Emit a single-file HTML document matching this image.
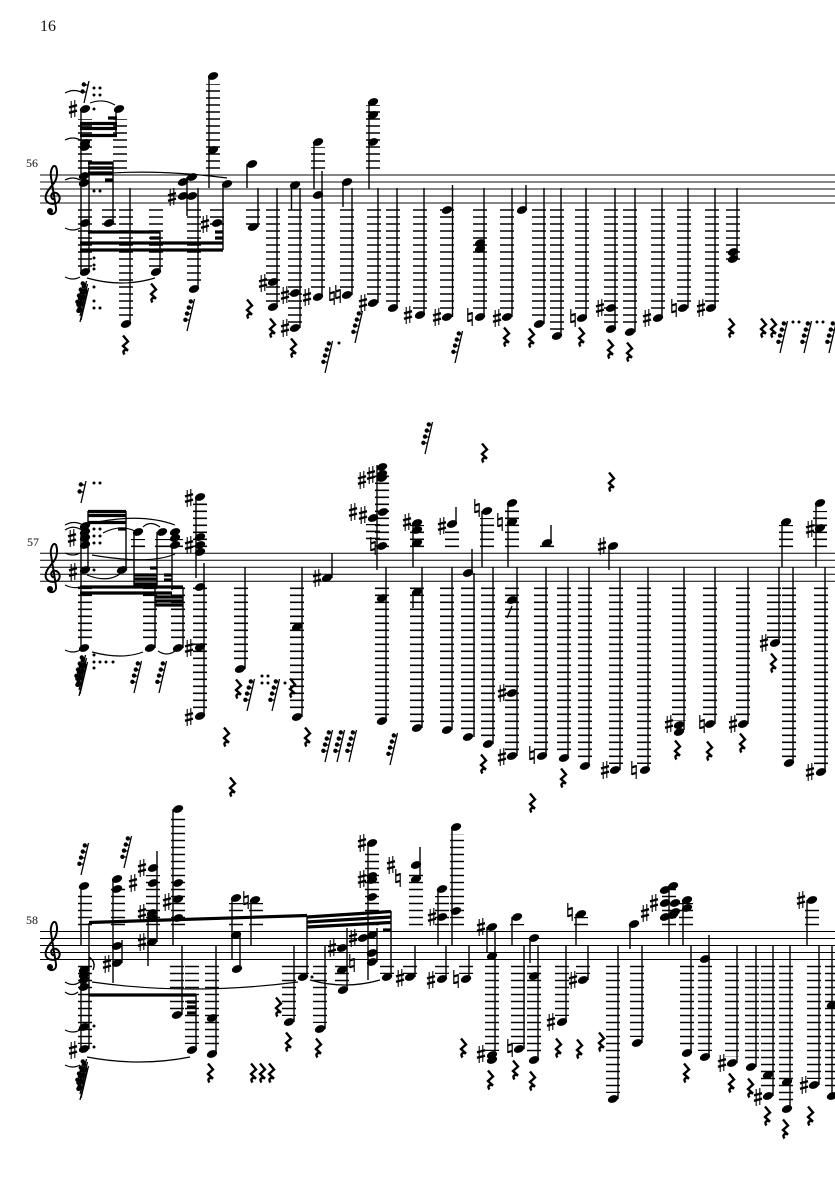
<!DOCTYPE html>
<html><head><meta charset="utf-8"><title>Score page 16</title>
<style>html,body{margin:0;padding:0;background:#fff}svg{display:block}text{font-family:"Liberation Serif",serif;fill:#111}</style></head>
<body>
<svg xmlns="http://www.w3.org/2000/svg" width="835" height="1181" viewBox="0 0 835 1181">
<defs>
<ellipse id="n" rx="5.4" ry="3.6" transform="rotate(-22)" fill="#000"/>
<circle id="d" r="1.5" fill="#000"/>
<g id="s" fill="none" stroke="#000"><path d="M-1.8-8V9M1.8-9V8" stroke-width="1.1"/><path d="M-4-1.6 4-3.8M-4 3.8 4 1.6" stroke-width="2.4"/></g>
<g id="t" fill="none" stroke="#000"><path d="M-2.2-9V5M2.2-5V9" stroke-width="1.2"/><path d="M-2.2-2.6 2.2-3.9M-2.2 4.2 2.2 2.9" stroke-width="2.2"/></g>
<path id="r" d="M-2-9.500 3-3.500-2 1 3 5.500C-.5 4-3 6-.5 9.500" fill="none" stroke="#000" stroke-width="2.4"/>
<g id="x" stroke="#000" fill="none"><path d="M4.500-16-3 16" stroke-width="1.3"/><path d="M.8-13.2 3.800-13M-1.3-7 2.500-7M-3-1 1-1M-4.800 5.200-.5 5" stroke-width="1.2"/><circle cx=".8" cy="-13.6" r="2.2" fill="#000" stroke="none"/><circle cx="-1.2" cy="-7.4" r="2.2" fill="#000" stroke="none"/><circle cx="-3" cy="-1.4" r="2.2" fill="#000" stroke="none"/><circle cx="-4.6" cy="4.8" r="2.2" fill="#000" stroke="none"/></g>
<g id="X"><use href="#x" x="0" y="-1"/><use href="#x" x="1" y="3"/><use href="#x" x="0" y="5"/><use href="#x" x="-1" y="-4"/></g>
<g id="q" stroke="#000" fill="none"><path d="M3-11-2 11" stroke-width="1.3"/><path d="M-2-7 2-7M-3.4 0 .5 0" stroke-width="1.2"/><circle cx="-2.2" cy="-7.5" r="2.2" fill="#000" stroke="none"/><circle cx="-3.4" cy="-.5" r="2.2" fill="#000" stroke="none"/></g>
<g id="c"><path d="M1.500 3.500C-2 3.500-3-1.500 0-3 5-4.500 8 1 6 5 4 9-5 9-7 4-9-2-3-8 1-13 4-17 5-24 3-29 0-33-3-25-2-19L3 12C4 19-4 20-5 15" fill="none" stroke="#000" stroke-width="2"/><circle cx="-3" cy="15" r="3" fill="#000"/></g>
</defs>

<text x="40" y="31" font-size="16">16</text>
<text x="26" y="167" font-size="12">56</text>
<text x="27" y="546" font-size="12">57</text>
<text x="26" y="924" font-size="12">58</text>

<!-- staves -->
<path d="M40 175H835M40 182H835M40 189H835M40 196H835M40 203H835" stroke="#000" stroke-width="1" opacity=".95"/>
<path d="M40 553.3H835M40 560.3H835M40 567.3H835M40 574.3H835M40 581.3H835" stroke="#000" stroke-width="1"/>
<path d="M40 931.5H835M40 938.5H835M40 945.5H835M40 952.5H835M40 959.5H835" stroke="#000" stroke-width="1"/>
<use href="#c" x="53" y="196"/><use href="#c" x="53" y="574"/><use href="#c" x="53" y="952"/>

<!-- ledger lines -->
<path fill="none" stroke="#000" stroke-width="14" stroke-dasharray="1.6 5.4" d="
M85 209.2V267M109 209.2V225M126 209.2V318M156 209.2V267M194 209.2V283M217 209.2V225M253 209.2V225M273 209.2V302M295 209.2V323M318 209.2V291M347 209.2V290M374 209.2V297M393 209.2V302M420 209.2V309M447 209.2V311M480 209.2V311M507 209.2V311M539 209.2V318M557 209.2V330M582 209.2V311M611 209.2V323M630 209.2V325M658 209.2V311M684 209.2V302M712 209.2V302M733 209.2V260
M85 168.8V119M120 168.8V119M213 168.8V84M318 168.8V147M373 168.8V105
M85 587.5V643M150 587.5V643M178 587.5V643M200 587.5V711M241 587.5V664M297 587.5V712M382 587.5V716M417 587.5V723M447 587.5V724M468 587.5V731M488 587.5V738M512 587.5V751M541 587.5V751M564 587.5V753M585 587.5V760M616 587.5V764M644 587.5V764M679 587.5V721M710 587.5V718M743 587.5V718M774 587.5V638M789 587.5V758M821 587.5V767
M138 547.1V539M162 547.1V539M176 547.1V539M200 547.1V503M382 547.1V473M417 547.1V525M452 547.1V531M487 547.1V518M512 547.1V510M547 547.1V545M786 547.1V525M820 547.1V511M373 539.2V524
M85 965.7V1044M177 965.7V1010M192 965.7V1044M212 965.7V1048M289 965.7V1016M302 965.7V974M320 965.7V1023M342 965.7V984M387 965.7V974M410 965.7V974M442 965.7V974M466 965.7V974M492 965.7V1051M518 965.7V1044M534 965.7V1054M562 965.7V1016M583 965.7V974M613 965.7V1093M637 965.7V1037M687 965.7V1047M705 965.7V1051M732 965.7V1057M752 965.7V1061M768 965.7V1090M786 965.7V1104M814 965.7V1079M832 965.7V1091
M85 925.3V893M118 925.3V886M153 925.3V875M178 925.3V816M236 925.3V903M256 925.3V903M372 925.3V850M416 925.3V872M442 925.3V896M457 925.3V834M517 925.3V924M581 925.3V917M669 925.3V889M686 925.3V903M812 925.3V907"/>

<!-- stems -->
<path fill="none" stroke="#000" stroke-width="1.4" d="
M81 109V272M89 162V272M116 109V137M113 162V223M130 188V324M160 232V272M187 177V216M198 188V289M223 184V250M209 78V188M247 164V188M258 188V227M277 188V307M291.500 185V210M300 188V328M314 142V189M322 171V297M343 182V207M352 188V295M369 102V189M378 188V303M397 188V308M424 188V315M452.500 185V317M484 188V317M512 188V317M526 185V210M544 188V324M561 188V336M586 188V318M615 188V329M635 188V332M662 188V318M688 188V308M715 188V308M737 188V259
M81 532V648M88 511V570M126 511V570M134 532V587M157 532V587M172 545V590M155 587V648M183 587V648M196 497V578M204 563V716M245 567V669M302 567V717M332 553V578M377 465V570M386 567V721M413 523V567M422 567V728M413 592V608M456 507V524M482 511V567M508 503V567M551 525V543M452 567V730M472 549V573M474 573V737M493 567V744M517 567V756M507 618 512 606M546 567V756M568 567V759M589 567V766M609 546V570M620 567V770M648 567V770M684 567V730M715 567V724M748 567V724M779 567V643M782 522V567M793 567V763M816 503V567M825 567V772
M81 886V945M113 879V983M122 940V963M157 851V942M148 913V966M173 809V945M182 945V1015M196 995V1050M216 945V1054M232 898V959M240 935V969M251 900V945M294 945V1022M89 923V1049M81 966V1049M307 917V977M325 945V1029M347 928V990M368 843V980M377 928V962M391 911V977M415 945V977M420 847V875M438 889V945M452 827V945M446 945V979M469 945V979M487 927V952M495 931V1058M512 917V945M524 945V1049M530 938V963M538 945V1060M566 945V1022M588 945V980M576 914V945M618 945V1099M630 924V949M642 945V1043M669 890V945M683 900V945M691 945V1053M709 935V1057M737 945V1063M756 945V1067M773 945V1096M790 945V1109M807 900V945M819 945V1085M832 945V1096"/>
<path d="M89 957C92 959 96 963 93 970" fill="none" stroke="#000" stroke-width="1.4"/>

<!-- beams -->
<path fill="none" stroke="#000" stroke-width="3.2" d="
M80 123.500H117M80 128.500H117M80 135.500H117M108 118H117M88 163H113M88 168H113M88 173H113M105 180H113M88 232H160M150 238H160M80 243H223M80 250H223M215 232H223M215 238H223
M88 511.500H126M88 515.500H126M88 522.500H126M118 529H126M134 575H157M134 579H157M134 584H157M150 568H157M164 575H172M164 580H172M80 587H183M80 593H172M155 597H183M155 601H183M155 605H183
M89 995H196M187 1002H196M187 1007H196M187 1013H196M307 917 391 911.500M307 922 391 917M307 927 391 922.500M383 930H391"/>
<path d="M89 922.500 307 915.500" fill="none" stroke="#000" stroke-width="3.2"/>

<!-- ties -->
<path fill="none" stroke="#000" stroke-width="1.2" d="
M65 93Q74 88 83 93M90 103Q103 98 115 105M65 140Q73 136 80 140M65 180Q73 176 80 180M88 175Q150 168 227 178M65 228Q73 232 80 228M65 277Q73 281 80 277M87 278Q122 288 155 278
M65 525Q74 520 83 525M65 530Q74 524 83 531M65 553Q73 557 80 553M65 585Q73 589 80 587M65 650Q73 654 80 650M92 652Q122 660 143 652M158 651Q167 657 175 651M87 575Q107 583 120 574M88 524Q140 512 175 525M92 555Q150 565 175 554M103 533Q120 524 135 531M143 527Q150 520 160 527
M65 982Q73 987 80 982M65 992Q72 997 78 992M65 1030Q73 1034 80 1030M65 1065Q73 1069 80 1065M92 982Q190 996 298 982M87 1057Q140 1067 190 1057M310 980Q345 990 380 980"/>

<!-- dots -->
<use href="#d" x="94" y="88"/><use href="#d" x="100" y="88"/><use href="#d" x="94" y="95"/><use href="#d" x="100" y="95"/><use href="#d" x="94" y="109"/><use href="#d" x="94" y="191"/><use href="#d" x="100" y="191"/><use href="#d" x="94" y="258"/><use href="#d" x="94" y="265"/><use href="#d" x="94" y="269"/><use href="#d" x="94" y="287"/><use href="#d" x="94" y="301"/><use href="#d" x="94" y="308"/><use href="#d" x="100" y="308"/><use href="#d" x="339" y="343"/><use href="#d" x="793" y="322"/><use href="#d" x="799" y="322"/><use href="#d" x="817" y="322"/><use href="#d" x="823" y="322"/>
<use href="#d" x="94" y="483"/><use href="#d" x="100" y="483"/><use href="#d" x="94" y="529"/><use href="#d" x="100" y="529"/><use href="#d" x="94" y="536"/><use href="#d" x="100" y="536"/><use href="#d" x="94" y="543"/><use href="#d" x="100" y="543"/><use href="#d" x="94" y="570"/><use href="#d" x="94" y="655"/><use href="#d" x="94" y="662"/><use href="#d" x="100" y="662"/><use href="#d" x="106" y="662"/><use href="#d" x="113" y="662"/><use href="#d" x="94" y="668"/><use href="#d" x="262" y="676"/><use href="#d" x="268" y="676"/><use href="#d" x="262" y="683"/><use href="#d" x="268" y="683"/><use href="#d" x="285" y="683"/>
<use href="#d" x="94" y="1026"/><use href="#d" x="94" y="1047"/><use href="#d" x="312" y="977"/>

<!-- system 1 notes -->
<use href="#n" x="85" y="109"/><use href="#n" x="119" y="109"/><use href="#n" x="85" y="143"/><use href="#n" x="85" y="147"/><use href="#n" x="84" y="176"/><use href="#n" x="84" y="183"/><use href="#n" x="85" y="223"/><use href="#n" x="109" y="223"/><use href="#n" x="85" y="272"/><use href="#n" x="156" y="272"/><use href="#n" x="126" y="324"/><use href="#n" x="194" y="289"/><use href="#n" x="217" y="223"/><use href="#n" x="227" y="184"/><use href="#n" x="183" y="182"/><use href="#n" x="192" y="177"/><use href="#n" x="183" y="196"/><use href="#n" x="192" y="196"/><use href="#n" x="213" y="76"/><use href="#n" x="213" y="150"/><use href="#n" x="252" y="164"/><use href="#n" x="253" y="227"/><use href="#n" x="273" y="282"/><use href="#n" x="273" y="307"/><use href="#n" x="295" y="185"/><use href="#n" x="295" y="293"/><use href="#n" x="295" y="328"/><use href="#n" x="318" y="142"/><use href="#n" x="318" y="195"/><use href="#n" x="318" y="297"/><use href="#n" x="347" y="182"/><use href="#n" x="347" y="295"/><use href="#n" x="373" y="102"/><use href="#n" x="373" y="115"/><use href="#n" x="373" y="142"/><use href="#n" x="373" y="303"/><use href="#n" x="393" y="308"/><use href="#n" x="420" y="315"/><use href="#n" x="447" y="210"/><use href="#n" x="447" y="317"/><use href="#n" x="480" y="243"/><use href="#n" x="480" y="249"/><use href="#n" x="480" y="317"/><use href="#n" x="507" y="317"/><use href="#n" x="522" y="210"/><use href="#n" x="539" y="324"/><use href="#n" x="557" y="336"/><use href="#n" x="582" y="318"/><use href="#n" x="611" y="308"/><use href="#n" x="611" y="329"/><use href="#n" x="630" y="332"/><use href="#n" x="658" y="318"/><use href="#n" x="683" y="308"/><use href="#n" x="711" y="308"/><use href="#n" x="733" y="252"/><use href="#n" x="733" y="259"/>
<use href="#s" x="73" y="109"/><use href="#s" x="172" y="197"/><use href="#s" x="205" y="224"/><use href="#s" x="263" y="283"/><use href="#s" x="285" y="295"/><use href="#s" x="285" y="328"/><use href="#s" x="307" y="297"/><use href="#s" x="363" y="303"/><use href="#s" x="408" y="315"/><use href="#s" x="437" y="317"/><use href="#s" x="497" y="318"/><use href="#s" x="600" y="308"/><use href="#s" x="647" y="318"/><use href="#s" x="701" y="308"/>
<use href="#t" x="332" y="296"/><use href="#t" x="338" y="294"/><use href="#t" x="470" y="317"/><use href="#t" x="573" y="318"/><use href="#t" x="674" y="308"/>
<use href="#r" x="125" y="345"/><use href="#r" x="153" y="293"/><use href="#r" x="249" y="309"/><use href="#r" x="272" y="328"/><use href="#r" x="293" y="348"/><use href="#r" x="506" y="337"/><use href="#r" x="531" y="338"/><use href="#r" x="581" y="337"/><use href="#r" x="610" y="349"/><use href="#r" x="629" y="352"/><use href="#r" x="731" y="328"/><use href="#r" x="763" y="328"/><use href="#r" x="773" y="328"/>
<use href="#x" x="190" y="315"/><use href="#x" x="328" y="357"/><use href="#x" x="358" y="327"/><use href="#x" x="458" y="347"/><use href="#x" x="783" y="337"/><use href="#x" x="807" y="337"/><use href="#x" x="832" y="337"/><use href="#X" x="83" y="301"/><use href="#q" x="86" y="92"/>

<!-- system 2 notes -->
<use href="#n" x="85" y="526"/><use href="#n" x="85" y="532"/><use href="#n" x="85" y="538"/><use href="#n" x="85" y="545"/><use href="#n" x="85" y="570"/><use href="#n" x="122" y="570"/><use href="#n" x="84" y="648"/><use href="#n" x="150" y="648"/><use href="#n" x="178" y="648"/><use href="#n" x="138" y="532"/><use href="#n" x="162" y="532"/><use href="#n" x="175" y="532"/><use href="#n" x="175" y="538"/><use href="#n" x="175" y="545"/><use href="#n" x="200" y="497"/><use href="#n" x="200" y="537"/><use href="#n" x="200" y="545"/><use href="#n" x="200" y="552"/><use href="#n" x="200" y="587"/><use href="#n" x="200" y="647"/><use href="#n" x="200" y="716"/><use href="#n" x="240" y="669"/><use href="#n" x="297" y="627"/><use href="#n" x="297" y="717"/><use href="#n" x="327" y="578"/><use href="#n" x="382" y="467"/><use href="#n" x="382" y="474"/><use href="#n" x="382" y="478"/><use href="#n" x="383" y="512"/><use href="#n" x="373" y="518"/><use href="#n" x="382" y="546"/><use href="#n" x="382" y="598"/><use href="#n" x="382" y="721"/><use href="#n" x="417" y="523"/><use href="#n" x="417" y="530"/><use href="#n" x="417" y="543"/><use href="#n" x="417" y="592"/><use href="#n" x="417" y="728"/><use href="#n" x="452" y="524"/><use href="#n" x="487" y="511"/><use href="#n" x="512" y="503"/><use href="#n" x="512" y="522"/><use href="#n" x="547" y="543"/><use href="#n" x="447" y="730"/><use href="#n" x="468" y="573"/><use href="#n" x="468" y="737"/><use href="#n" x="488" y="744"/><use href="#n" x="512" y="600"/><use href="#n" x="512" y="693"/><use href="#n" x="512" y="756"/><use href="#n" x="542" y="756"/><use href="#n" x="564" y="758"/><use href="#n" x="585" y="766"/><use href="#n" x="613" y="546"/><use href="#n" x="615" y="770"/><use href="#n" x="645" y="770"/><use href="#n" x="679" y="725"/><use href="#n" x="679" y="732"/><use href="#n" x="710" y="724"/><use href="#n" x="743" y="724"/><use href="#n" x="775" y="643"/><use href="#n" x="786" y="522"/><use href="#n" x="789" y="763"/><use href="#n" x="820" y="503"/><use href="#n" x="820" y="528"/><use href="#n" x="821" y="772"/>
<use href="#s" x="72" y="538"/><use href="#s" x="73" y="572"/><use href="#s" x="189" y="498"/><use href="#s" x="189" y="545"/><use href="#s" x="189" y="648"/><use href="#s" x="189" y="717"/><use href="#s" x="317" y="578"/><use href="#s" x="362" y="480"/><use href="#s" x="371" y="475"/><use href="#s" x="353" y="512"/><use href="#s" x="363" y="515"/><use href="#s" x="407" y="522"/><use href="#s" x="442" y="526"/><use href="#s" x="502" y="693"/><use href="#s" x="502" y="757"/><use href="#s" x="602" y="546"/><use href="#s" x="605" y="770"/><use href="#s" x="669" y="724"/><use href="#s" x="733" y="724"/><use href="#s" x="764" y="643"/><use href="#s" x="810" y="529"/><use href="#s" x="810" y="772"/>
<use href="#t" x="373" y="546"/><use href="#t" x="477" y="508"/><use href="#t" x="500" y="522"/><use href="#t" x="532" y="755"/><use href="#t" x="634" y="770"/><use href="#t" x="702" y="724"/>
<use href="#r" x="238" y="689"/><use href="#r" x="226" y="737"/><use href="#r" x="232" y="787"/><use href="#r" x="292" y="688"/><use href="#r" x="307" y="737"/><use href="#r" x="484" y="453"/><use href="#r" x="483" y="764"/><use href="#r" x="563" y="778"/><use href="#r" x="532" y="803"/><use href="#r" x="611" y="482"/><use href="#r" x="773" y="663"/><use href="#r" x="677" y="750"/><use href="#r" x="709" y="751"/><use href="#r" x="742" y="743"/>
<use href="#X" x="82" y="675"/><use href="#x" x="137" y="677"/><use href="#x" x="162" y="677"/><use href="#x" x="250" y="695"/><use href="#x" x="275" y="695"/><use href="#x" x="428" y="438"/><use href="#x" x="328" y="746"/><use href="#x" x="340" y="746"/><use href="#x" x="352" y="746"/><use href="#x" x="393" y="749"/><use href="#q" x="83" y="492"/>

<!-- system 3 notes -->
<use href="#n" x="84" y="886"/><use href="#n" x="117" y="879"/><use href="#n" x="117" y="889"/><use href="#n" x="117" y="946"/><use href="#n" x="117" y="963"/><use href="#n" x="153" y="868"/><use href="#n" x="153" y="883"/><use href="#n" x="152" y="913"/><use href="#n" x="152" y="918"/><use href="#n" x="152" y="942"/><use href="#n" x="178" y="809"/><use href="#n" x="178" y="883"/><use href="#n" x="178" y="899"/><use href="#n" x="178" y="918"/><use href="#n" x="177" y="1015"/><use href="#n" x="192" y="1050"/><use href="#n" x="212" y="1018"/><use href="#n" x="212" y="1054"/><use href="#n" x="236" y="898"/><use href="#n" x="236" y="935"/><use href="#n" x="237" y="969"/><use href="#n" x="255" y="900"/><use href="#n" x="289" y="1022"/><use href="#n" x="84" y="970"/><use href="#n" x="84" y="975"/><use href="#n" x="84" y="980"/><use href="#n" x="84" y="987"/><use href="#n" x="84" y="1027"/><use href="#n" x="84" y="1049"/><use href="#n" x="320" y="1029"/><use href="#n" x="303" y="977"/><use href="#n" x="342" y="948"/><use href="#n" x="342" y="970"/><use href="#n" x="343" y="990"/><use href="#n" x="363" y="938"/><use href="#n" x="372" y="935"/><use href="#n" x="372" y="843"/><use href="#n" x="372" y="876"/><use href="#n" x="372" y="880"/><use href="#n" x="372" y="897"/><use href="#n" x="372" y="953"/><use href="#n" x="372" y="962"/><use href="#n" x="387" y="977"/><use href="#n" x="410" y="977"/><use href="#n" x="416" y="865"/><use href="#n" x="416" y="879"/><use href="#n" x="442" y="889"/><use href="#n" x="442" y="917"/><use href="#n" x="456" y="827"/><use href="#n" x="456" y="911"/><use href="#n" x="442" y="979"/><use href="#n" x="466" y="979"/><use href="#n" x="492" y="927"/><use href="#n" x="492" y="956"/><use href="#n" x="492" y="1055"/><use href="#n" x="492" y="1060"/><use href="#n" x="517" y="917"/><use href="#n" x="519" y="1049"/><use href="#n" x="534" y="938"/><use href="#n" x="534" y="976"/><use href="#n" x="534" y="1060"/><use href="#n" x="562" y="1022"/><use href="#n" x="583" y="980"/><use href="#n" x="581" y="914"/><use href="#n" x="613" y="1099"/><use href="#n" x="634" y="924"/><use href="#n" x="637" y="1043"/><use href="#n" x="673" y="886"/><use href="#n" x="665" y="890"/><use href="#n" x="665" y="903"/><use href="#n" x="675" y="903"/><use href="#n" x="675" y="912"/><use href="#n" x="665" y="917"/><use href="#n" x="673" y="915"/><use href="#n" x="687" y="900"/><use href="#n" x="687" y="908"/><use href="#n" x="687" y="1053"/><use href="#n" x="705" y="959"/><use href="#n" x="705" y="1057"/><use href="#n" x="732" y="1063"/><use href="#n" x="751" y="1067"/><use href="#n" x="768" y="1075"/><use href="#n" x="768" y="1096"/><use href="#n" x="787" y="1082"/><use href="#n" x="787" y="1109"/><use href="#n" x="812" y="900"/><use href="#n" x="814" y="1085"/><use href="#n" x="832" y="1005"/><use href="#n" x="832" y="1096"/>
<use href="#s" x="73" y="1050"/><use href="#s" x="107" y="964"/><use href="#s" x="142" y="868"/><use href="#s" x="133" y="883"/><use href="#s" x="142" y="913"/><use href="#s" x="142" y="942"/><use href="#s" x="167" y="902"/><use href="#s" x="332" y="948"/><use href="#s" x="353" y="938"/><use href="#s" x="362" y="843"/><use href="#s" x="362" y="879"/><use href="#s" x="400" y="978"/><use href="#s" x="391" y="865"/><use href="#s" x="432" y="917"/><use href="#s" x="431" y="980"/><use href="#s" x="481" y="927"/><use href="#s" x="481" y="1054"/><use href="#s" x="551" y="1022"/><use href="#s" x="573" y="980"/><use href="#s" x="645" y="913"/><use href="#s" x="654" y="903"/><use href="#s" x="722" y="1063"/><use href="#s" x="758" y="1097"/><use href="#s" x="801" y="900"/><use href="#s" x="804" y="1085"/>
<use href="#t" x="246" y="900"/><use href="#t" x="352" y="963"/><use href="#t" x="398" y="878"/><use href="#t" x="456" y="979"/><use href="#t" x="510" y="1048"/><use href="#t" x="570" y="912"/>
<use href="#r" x="210" y="1073"/><use href="#r" x="253" y="1073"/><use href="#r" x="262" y="1073"/><use href="#r" x="271" y="1073"/><use href="#r" x="278" y="1007"/><use href="#r" x="288" y="1042"/><use href="#r" x="318" y="1048"/><use href="#r" x="463" y="1048"/><use href="#r" x="490" y="1080"/><use href="#r" x="515" y="1070"/><use href="#r" x="532" y="1081"/><use href="#r" x="558" y="1048"/><use href="#r" x="579" y="1049"/><use href="#r" x="601" y="1042"/><use href="#r" x="686" y="1073"/><use href="#r" x="731" y="1083"/><use href="#r" x="750" y="1088"/><use href="#r" x="767" y="1116"/><use href="#r" x="785" y="1129"/><use href="#r" x="810" y="1116"/>
<use href="#X" x="83" y="1079"/><use href="#x" x="84" y="859"/><use href="#x" x="127" y="852"/>
</svg>
</body></html>
